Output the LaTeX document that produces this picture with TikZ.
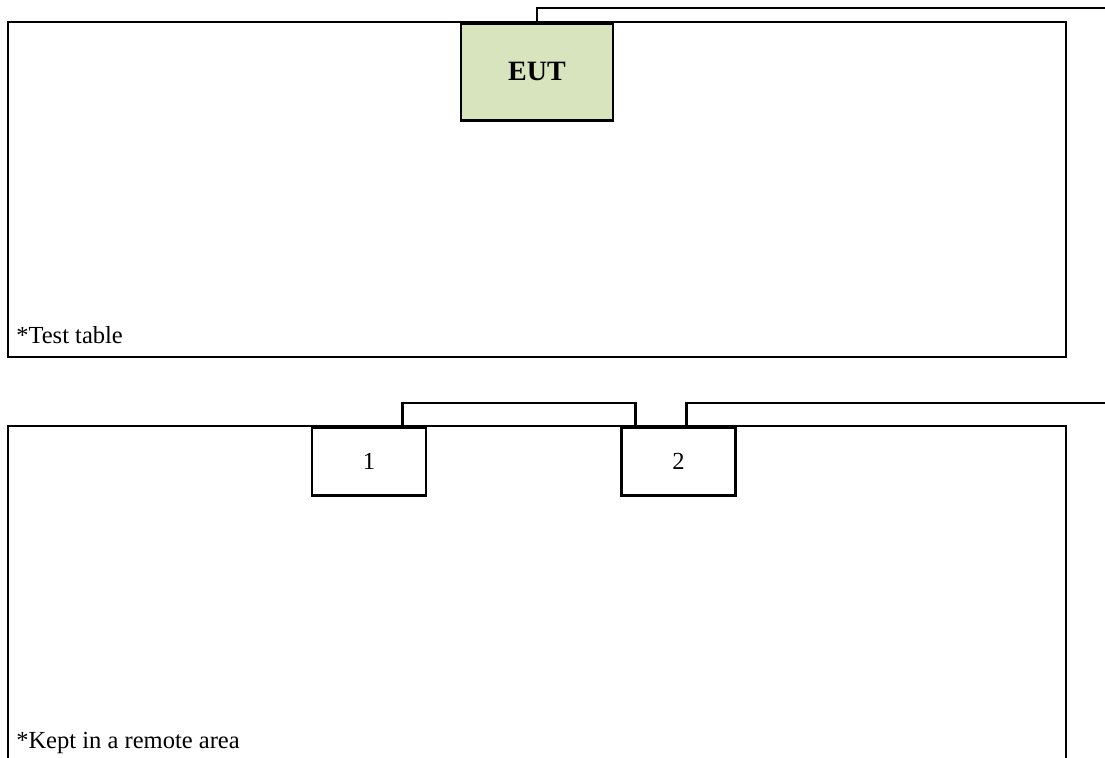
\documentclass[tikz,border=0pt]{standalone}
\usepackage{fontspec}
\setmainfont{Liberation Serif}
\usetikzlibrary{calc}

\tikzset{every picture/.style={line width=1.9pt}}
\tikzset{
	unitbox/.style={draw, fill=white, minimum width=85.5pt, minimum height=51pt, inner sep=0pt, font=\fontsize{18.4}{22}\selectfont},
	eutbox/.style={draw, fill={rgb, 255:red, 215; green, 228; blue, 189}, minimum width=114pt, minimum height=72.75pt, inner sep=0pt, font=\fontsize{21}{25}\selectfont\bfseries},
	note/.style={anchor=base west, inner sep=0pt, font=\fontsize{18.4}{22}\selectfont}}

\begin{document}
\begin{tikzpicture}[x=0.75pt,y=0.75pt,yscale=-1,xscale=1]
	\useasboundingbox (0,0) rectangle (1105,757);

	%Shape: Rectangle [test table]
	\draw (8,22) -- (1066,22) -- (1066,357) -- (8,357) -- cycle ;
	%Shape: Rectangle [remote area]
	\draw (8,762) -- (8,426) -- (1066,426) -- (1066,762) ;

	% EUT
	\node [eutbox, anchor=north] (eut) at (537,22) {EUT};
	% Aux units
	\node [unitbox, anchor=north] (unitA) at (369,426) {1};
	\node [unitbox, anchor=north] (unitB) at (678.5,426) {2};

	% cable ends
	\coordinate (eutend) at (1110,8);
	\coordinate (unitBend) at (1110,403);

	% Cables
	\draw (eut.north) |- (eutend);
	\draw ($(unitA.north west)+(92,0)$) |- ($(unitB.north west)+(15,-23)$) -- ($(unitB.north west)+(15,0)$);
	\draw ($(unitB.north west)+(66,0)$) |- (unitBend);

	% Text Node
	\node [note] (tablelabel) at (15,343) {*Test table};
	% Text Node
	\node [note] (remotelabel) at (15,748) {*Kept in a remote area};

\end{tikzpicture}
\end{document}
